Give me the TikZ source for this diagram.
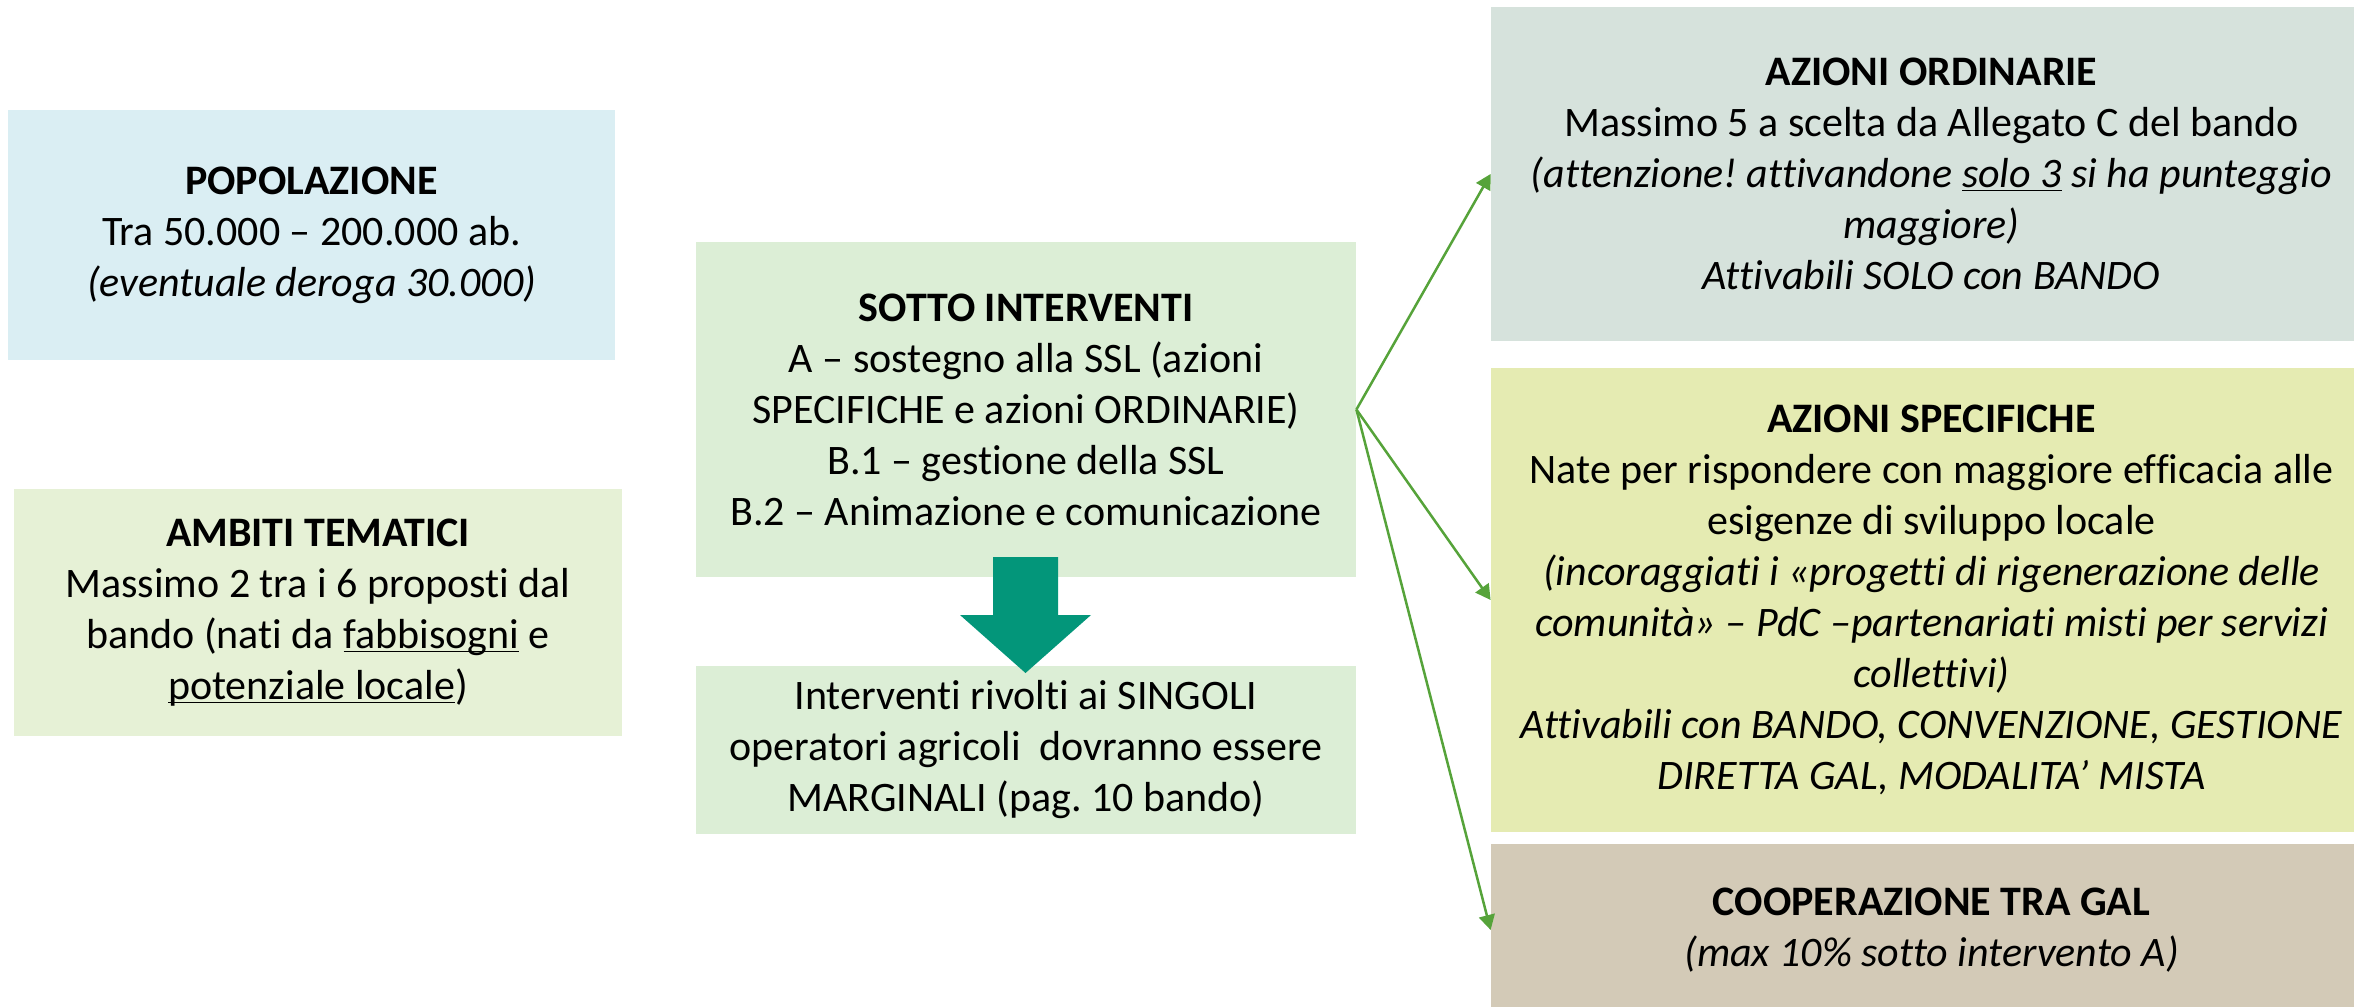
\documentclass[tikz,border=0pt]{standalone}
\usepackage{fontspec}
\setmainfont{Carlito}[Ligatures=NoCommon]
\usepackage{tikz}
\usetikzlibrary{arrows.meta}
\definecolor{popfill}{HTML}{DAEEF3}
\definecolor{ambfill}{HTML}{E6F1D6}
\definecolor{sotfill}{HTML}{DCEED6}
\definecolor{ordfill}{HTML}{D6E2DC}
\definecolor{specfill}{HTML}{E5EBB2}
\definecolor{coopfill}{HTML}{D3CAB7}
\definecolor{linkgreen}{HTML}{56A33A}
\definecolor{arrowteal}{HTML}{03967A}
\newcommand{\sottolinea}[1]{\underline{\smash{#1}}}
\frenchspacing

\begin{document}
\begin{tikzpicture}[x=0.5pt,y=-0.5pt,
  box/.style={inner sep=0pt,align=center,font=\fontsize{21}{25.5}\selectfont},
  link/.style={linkgreen,line width=1.25pt,-{Triangle[length=7.5pt,width=8pt]}}]
\useasboundingbox (0,0) rectangle (2354,1006);
\node[box,fill=popfill,minimum width=303.5pt,minimum height=125pt] (pop) at (311.5,235) {\textbf{POPOLAZIONE}\\Tra 50.000 – 200.000 ab.\\\textit{(eventuale deroga 30.000)}};
\node[box,fill=ambfill,minimum width=304pt,minimum height=123.5pt] (amb) at (318,612.5) {\textbf{AMBITI TEMATICI}\\Massimo 2 tra i 6 proposti dal\\bando (nati da \sottolinea{fabbisogni} e\\\sottolinea{potenziale locale})};
\node[box,fill=sotfill,minimum width=330pt,minimum height=167.5pt] (sotto) at (1026,409.5) {\textbf{SOTTO INTERVENTI}\\A – sostegno alla SSL (azioni\\SPECIFICHE e azioni ORDINARIE)\\B.1 – gestione della SSL\\B.2 – Animazione e comunicazione};
\node[box,fill=sotfill,minimum width=330pt,minimum height=84pt] (interv) at (1026,750) {Interventi rivolti ai SINGOLI\\operatori agricoli \ dovranno essere\\MARGINALI (pag. 10 bando)};
\node[box,fill=ordfill,minimum width=440.5pt,minimum height=167pt] (ord) at (1931.5,174) {\textbf{AZIONI ORDINARIE}\\Massimo 5 a scelta da Allegato C del bando\\\textit{(attenzione! attivandone \sottolinea{solo 3} si ha punteggio}\\\textit{maggiore)}\\\textit{Attivabili SOLO con BANDO}};
\node[box,fill=specfill,minimum width=440.5pt,minimum height=232pt] (spec) at (1931.5,600) {\textbf{AZIONI SPECIFICHE}\\Nate per rispondere con maggiore efficacia alle\\esigenze di sviluppo locale\\\textit{(incoraggiati i «progetti di rigenerazione delle}\\\textit{comunità» – PdC –partenariati misti per servizi}\\\textit{collettivi)}\\\textit{Attivabili con BANDO, CONVENZIONE, GESTIONE}\\\textit{DIRETTA GAL, MODALITA’ MISTA}};
\node[box,fill=coopfill,minimum width=440.5pt,minimum height=86pt] (coop) at (1931.5,930) {\textbf{COOPERAZIONE TRA GAL}\\\textit{(max 10\% sotto intervento A)}};
% freccia verso il basso
\fill[arrowteal] (993,557) -- (1058,557) -- (1058,615) -- (1091,615) -- (1025.5,673) -- (960,615) -- (993,615) -- cycle;
% collegamenti
\draw[link] (sotto.east) -- (ord.west);
\draw[link] (sotto.east) -- (spec.west);
\draw[link] (sotto.east) -- (coop.west);
\end{tikzpicture}
\end{document}
